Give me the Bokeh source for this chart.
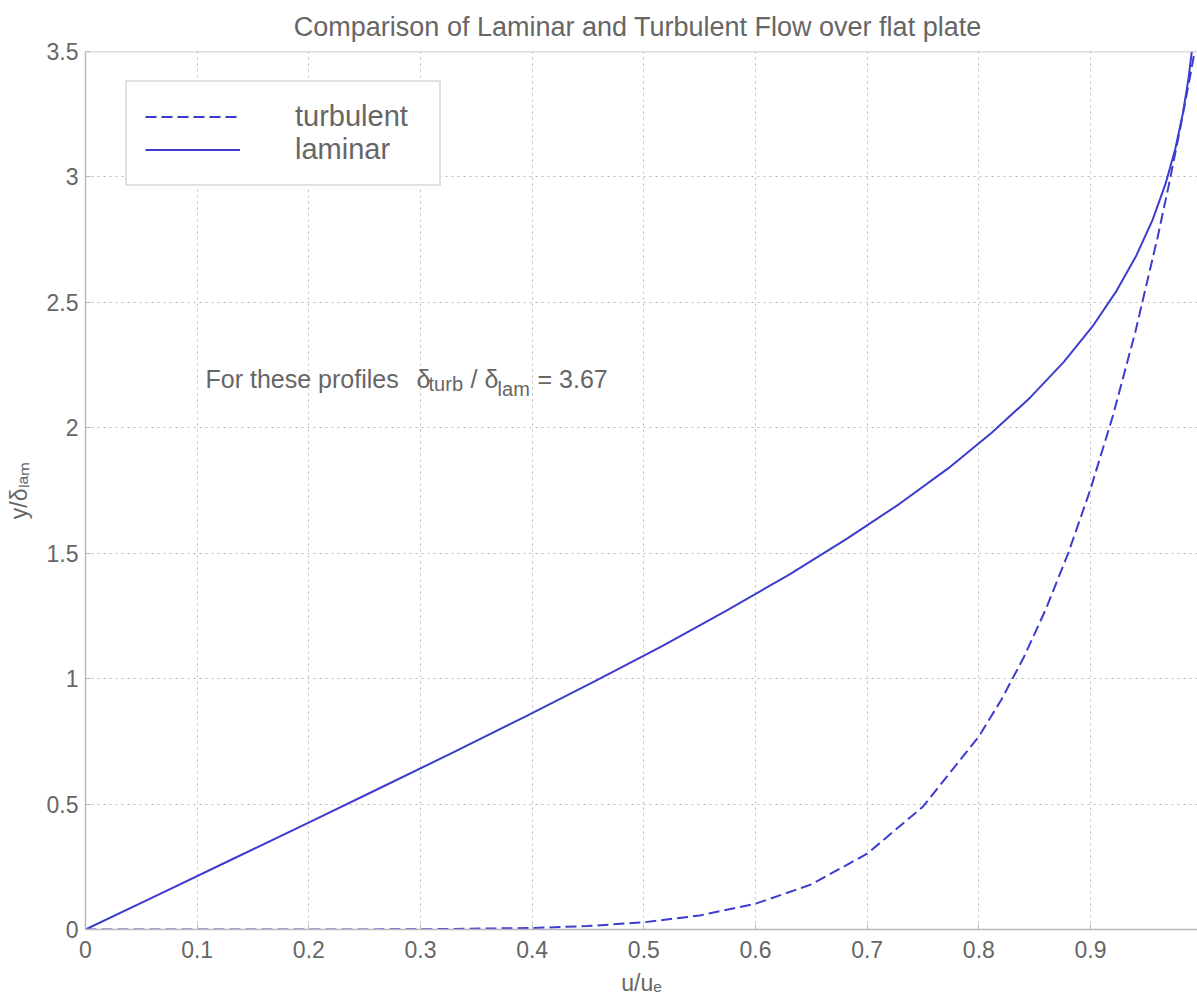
from bokeh.plotting import figure
from bokeh.models import Range1d, FixedTicker, Legend, LegendItem, Label, Span
from bokeh.embed import file_html
from bokeh.resources import INLINE

# ---- data ----
laminar_u = [0, 0.0664, 0.1328, 0.1989, 0.2647, 0.3298, 0.3938, 0.4563, 0.5168,
             0.5748, 0.6298, 0.6813, 0.7290, 0.7725, 0.8115, 0.8461, 0.8761,
             0.9018, 0.9233, 0.9411, 0.9555, 0.9670, 0.9759, 0.9827, 0.9878, 0.9907]
laminar_y = [0, 0.141, 0.283, 0.424, 0.566, 0.707, 0.849, 0.990, 1.131,
             1.273, 1.414, 1.556, 1.697, 1.838, 1.980, 2.121, 2.263,
             2.404, 2.546, 2.687, 2.828, 2.970, 3.111, 3.253, 3.394, 3.5]

turbulent_u = [0, 0.1, 0.2, 0.3, 0.4, 0.45, 0.5, 0.55, 0.6, 0.65, 0.7, 0.75, 0.8,
               0.82, 0.84, 0.86, 0.88, 0.9, 0.92, 0.94, 0.96, 0.97, 0.98, 0.99, 0.9932]
turbulent_y = [0, 0.0, 0.00005, 0.0008, 0.0060, 0.0137, 0.0287, 0.0559, 0.1027,
               0.1799, 0.3022, 0.4899, 0.7697, 0.9149, 1.0830, 1.2769, 1.4998,
               1.7553, 2.0473, 2.3799, 2.7578, 2.9653, 3.1860, 3.4207, 3.5]

x_ticks = [0, 0.1, 0.2, 0.3, 0.4, 0.5, 0.6, 0.7, 0.8, 0.9]
x_tick_labels = ["0", "0.1", "0.2", "0.3", "0.4", "0.5", "0.6", "0.7", "0.8", "0.9"]
y_ticks = [0, 0.5, 1, 1.5, 2, 2.5, 3, 3.5]
y_tick_labels = ["0", "0.5", "1", "1.5", "2", "2.5", "3", "3.5"]

series_names = ["turbulent", "laminar"]
title_text = "Comparison  of Laminar and Turbulent Flow over flat plate"

FONT = "Liberation Sans"
TXT = "#666666"
LINE = "#3c3cce"
AXC = "#b9b9b9"

p = figure(width=1197, height=999, output_backend="svg", toolbar_location=None,
           x_range=Range1d(0, 0.9958), y_range=Range1d(0, 3.5),
           min_border_left=85, min_border_top=50, min_border_bottom=70,
           min_border_right=0, outline_line_color=None,
           background_fill_color="white", border_fill_color="white")

p.title.text = title_text
p.title.align = "center"
p.title.text_font = FONT
p.title.text_font_size = "27px"
p.title.text_font_style = "normal"
p.title.text_color = TXT
p.title.standoff = 19

xt = FixedTicker(ticks=x_ticks)
yt = FixedTicker(ticks=y_ticks)
p.xaxis.ticker = xt
p.yaxis.ticker = yt
p.xgrid.ticker = xt
p.ygrid.ticker = yt
p.xaxis.major_label_overrides = dict(zip(x_ticks, x_tick_labels))
p.yaxis.major_label_overrides = dict(zip(y_ticks, y_tick_labels))

for ax in (p.xaxis, p.yaxis):
    ax.axis_line_color = AXC
    ax.axis_line_width = 1.5
    ax.major_tick_line_color = AXC
    ax.major_tick_in = 5
    ax.major_tick_out = 0
    ax.minor_tick_line_color = None
    ax.major_label_text_font = FONT
    ax.major_label_text_font_size = "23px"
    ax.major_label_text_color = TXT
    ax.axis_label_text_font = FONT
    ax.axis_label_text_font_size = "23px"
    ax.axis_label_text_font_style = "normal"
    ax.axis_label_text_color = TXT

p.xaxis.axis_label = "u/uₑ"
p.yaxis.axis_label = "y/δₗₐₘ"
p.xaxis.major_label_standoff = 11
p.xaxis.axis_label_standoff = 9
p.yaxis.major_label_standoff = 7
p.yaxis.axis_label_standoff = 12

p.grid.grid_line_color = "#b8b8b8"
p.grid.grid_line_dash = "2 4"
p.grid.grid_line_width = 1

p.add_layout(Span(location=3.5, dimension="width", line_color=AXC, line_width=1.5))

r_turb = p.line(turbulent_u, turbulent_y, line_color=LINE, line_width=2, line_dash="11 5")
r_lam = p.line(laminar_u, laminar_y, line_color=LINE, line_width=2)

legend = Legend(items=[LegendItem(label=series_names[0], renderers=[r_turb]),
                       LegendItem(label=series_names[1], renderers=[r_lam])],
                location=(40, 743), orientation="vertical",
                label_text_font=FONT, label_text_font_size="29px", label_text_color=TXT,
                glyph_width=95, glyph_height=29, label_height=29,
                label_standoff=55, label_width=126, padding=18, spacing=0, margin=0,
                border_line_color="#c4c4c4", border_line_width=2,
                background_fill_color="white", background_fill_alpha=1)
p.add_layout(legend)

# annotation text with subscripts
def add_text(x, y, text, size):
    p.add_layout(Label(x=x, y=y, text=text, text_font=FONT, text_font_size=size,
                       text_color=TXT, text_align="left", text_baseline="alphabetic"))

add_text(0.1075, 2.194, "For these profiles", "25px")
add_text(0.2964, 2.194, "δ", "25px")
add_text(0.3072, 2.174, "turb", "20px")
add_text(0.3448, 2.194, "/", "25px")
add_text(0.3573, 2.194, "δ", "25px")
add_text(0.3690, 2.154, "lam", "20px")
add_text(0.4048, 2.194, "= 3.67", "25px")

open("out.html", "w").write(file_html(p, INLINE))
